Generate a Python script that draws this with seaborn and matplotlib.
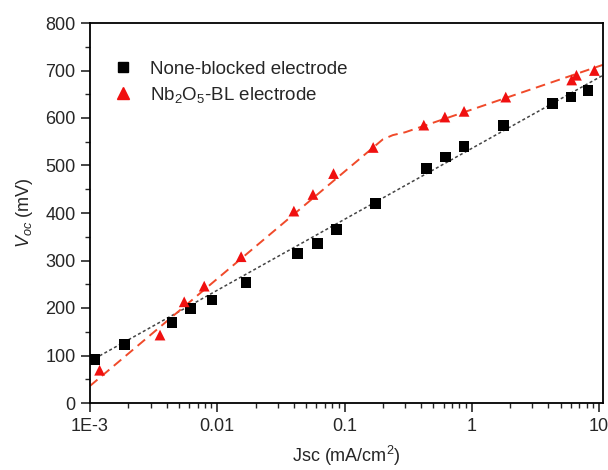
import numpy as np
import pandas as pd
import seaborn as sns
import matplotlib
matplotlib.use("Agg")
import matplotlib.pyplot as plt
from matplotlib.lines import Line2D
from matplotlib.ticker import FixedLocator, FixedFormatter, LogLocator, NullFormatter, MultipleLocator

# ---- data ----
nb_jsc = [0.00108, 0.00187, 0.0044, 0.0062, 0.0091, 0.0168, 0.043, 0.061, 0.086,
          0.176, 0.44, 0.62, 0.87, 1.78, 4.3, 6.03, 8.2]
nb_voc = [91, 123, 169, 199, 217, 253, 314, 335, 365,
          420, 493, 518, 540, 585, 630, 644, 658]

bl_jsc = [0.00119, 0.00355, 0.0055, 0.0079, 0.0154, 0.040, 0.0565, 0.082,
          0.168, 0.42, 0.615, 0.87, 1.85, 6.1, 6.65, 9.2]
bl_voc = [69, 143, 213, 246, 308, 404, 439, 483,
          538, 585, 602, 614, 644, 680, 690, 700]

# fitted guide lines
nb_fit_jsc = [0.001, 10.75]
nb_fit_voc = [88, 690]
bl_fit_jsc = [0.001, 0.2, 0.24, 0.3, 10.75]
bl_fit_voc = [36, 555, 564, 570, 712]

series_names = ["None-blocked electrode", "Nb$_2$O$_5$-BL electrode"]
x_ticks = [0.001, 0.01, 0.1, 1, 10]
x_tick_labels = ["1E-3", "0.01", "0.1", "1", "10"]
y_ticks = [0, 100, 200, 300, 400, 500, 600, 700, 800]

sns.set_style("ticks")
plt.rcParams["font.family"] = ["Liberation Sans", "DejaVu Sans"]
plt.rcParams["mathtext.fontset"] = "custom"
plt.rcParams["mathtext.rm"] = "Liberation Sans"
plt.rcParams["mathtext.it"] = "Liberation Sans:italic"
plt.rcParams["mathtext.bf"] = "Liberation Sans:bold"

fig = plt.figure(figsize=(6.08, 4.70), dpi=100)
ax = fig.add_axes([90 / 608, 1 - 403 / 470, (603 - 90) / 608, (403 - 23) / 470])

pts = pd.DataFrame({
    "jsc": nb_jsc + bl_jsc,
    "voc": nb_voc + bl_voc,
    "series": [series_names[0]] * len(nb_jsc) + [series_names[1]] * len(bl_jsc),
})
fits = pd.DataFrame({
    "jsc": nb_fit_jsc + bl_fit_jsc,
    "voc": nb_fit_voc + bl_fit_voc,
    "series": [series_names[0]] * len(nb_fit_jsc) + [series_names[1]] * len(bl_fit_jsc),
})

black = "#000000"
red = "#f01010"
line_black = "#444444"
line_red = "#f04a2a"

sns.lineplot(data=fits[fits.series == series_names[0]], x="jsc", y="voc", ax=ax,
             color=line_black, lw=1.1, linestyle=(0, (2, 1.6)), legend=False, sort=False)
sns.lineplot(data=fits[fits.series == series_names[1]], x="jsc", y="voc", ax=ax,
             color=line_red, lw=1.4, linestyle=(0, (5, 3)), legend=False, sort=False)

sns.scatterplot(data=pts, x="jsc", y="voc", hue="series", style="series",
                palette={series_names[0]: black, series_names[1]: red},
                markers={series_names[0]: "s", series_names[1]: "^"},
                s=60, linewidth=0, ax=ax, legend=False, zorder=5)

ax.set_xscale("log")
ax.set_xlim(0.001, 10.75)
ax.set_ylim(0, 800)

ax.xaxis.set_major_locator(FixedLocator(x_ticks))
ax.xaxis.set_major_formatter(FixedFormatter(x_tick_labels))
ax.xaxis.set_minor_locator(LogLocator(base=10, subs=np.arange(2, 10), numticks=20))
ax.xaxis.set_minor_formatter(NullFormatter())
ax.yaxis.set_major_locator(FixedLocator(y_ticks))
ax.yaxis.set_minor_locator(MultipleLocator(50))

ax.tick_params(which="major", direction="out", length=6.5, width=1.2, labelsize=13, pad=4,
               top=False, right=False)
ax.tick_params(which="minor", direction="out", length=3.5, width=1.0, top=False, right=False)
for sp in ax.spines.values():
    sp.set_linewidth(1.3)
    sp.set_color("black")

ax.set_xlabel("Jsc (mA/cm$^2$)", fontsize=13, labelpad=7)
ax.set_ylabel("$V_{oc}$ (mV)", fontsize=13, labelpad=7)

handles = [
    Line2D([], [], marker="s", color=black, linestyle="none", markersize=7),
    Line2D([], [], marker="^", color=red, linestyle="none", markersize=8),
]
ax.legend(handles, series_names, loc="upper left", bbox_to_anchor=(0.02, 0.93),
          frameon=False, fontsize=13.5, handletextpad=0.85, labelspacing=0.35,
          handlelength=1.2, borderaxespad=0.2)

fig.savefig("out.png", dpi=100)
